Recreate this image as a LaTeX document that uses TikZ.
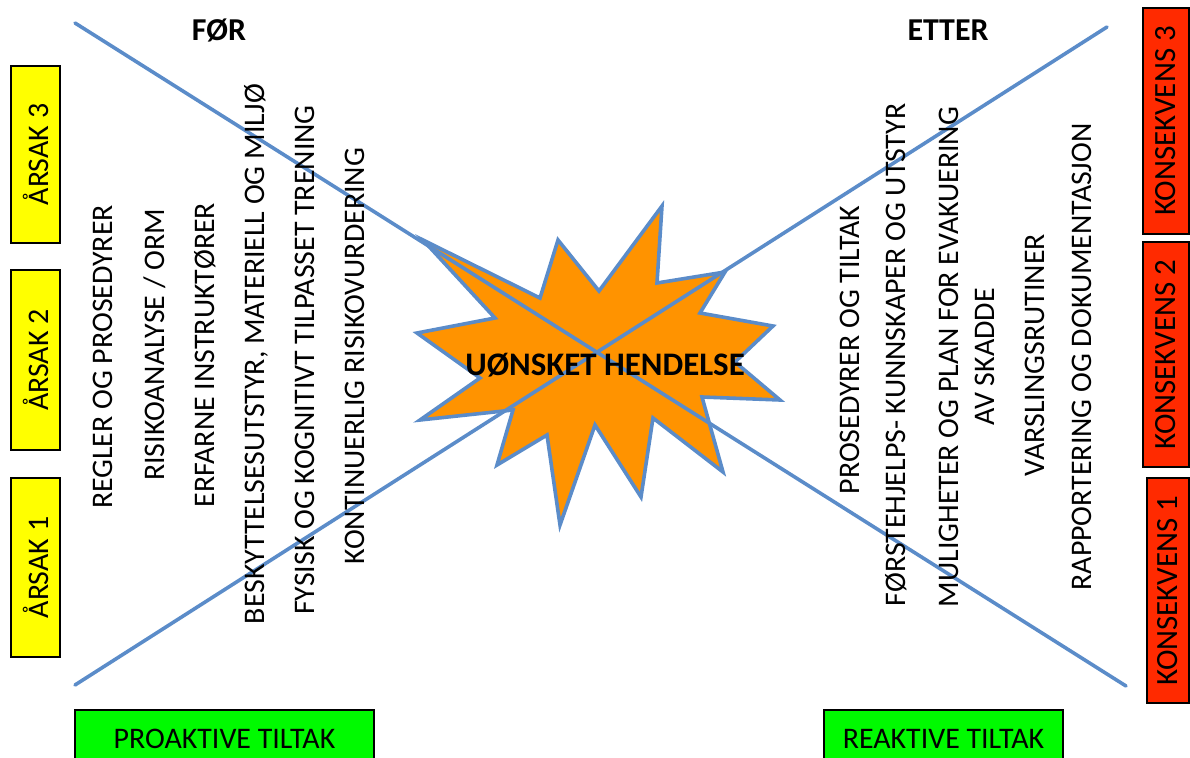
\documentclass[tikz,border=0pt]{standalone}
\usepackage{fontspec}
\setmainfont{Carlito}
\definecolor{lineblue}{RGB}{91,140,201}
\definecolor{starorange}{RGB}{255,147,0}
\definecolor{causeyellow}{RGB}{255,255,0}
\definecolor{effectred}{RGB}{255,42,0}
\definecolor{actiongreen}{RGB}{0,250,0}
\tikzset{
  txt/.style={font=\fontsize{30}{36}\selectfont, inner sep=0pt},
  vtxt/.style={txt, rotate=90, align=center},
  head/.style={font=\fontsize{32}{38}\selectfont\bfseries, inner sep=0pt},
  causebox/.style={draw=black, line width=2bp, fill=causeyellow, minimum width=180bp, minimum height=49bp, rotate=90, txt},
  effectbox/.style={draw=black, line width=2bp, fill=effectred, minimum width=225bp, rotate=90, txt, font=\fontsize{31}{36}\selectfont},
  actionbox/.style={draw=black, line width=2bp, fill=actiongreen, minimum height=58bp, txt},
  axis/.style={draw=lineblue, line width=3.6bp, line cap=round},
}
\begin{document}
\begin{tikzpicture}[x=1bp,y=-1bp]
\useasboundingbox (0,0) rectangle (1190,758);
\clip (0,0) rectangle (1190,758);

% explosion in the middle
\filldraw[fill=starorange, draw=lineblue, line width=3.6bp, line join=miter]
  (423,240) -- (540,298) -- (558,240) -- (599,291) -- (662,206) -- (657,283)
  -- (725,272) -- (700,313) -- (773,326) -- (735,362) -- (780,400) -- (702,397)
  -- (723,472) -- (653,418) -- (641,497) -- (595,425) -- (560,525) -- (547,435)
  -- (497,465) -- (513,410) -- (420,420) -- (480,378) -- (417,333) -- (495,318)
  -- cycle;

% the two crossing lines
\coordinate (tl) at (75,23);
\coordinate (br) at (1126,686);
\coordinate (bl) at (75,685);
\coordinate (tr) at (1107,27);
\draw[axis] (tl) -- (br);
\draw[axis] (bl) -- (tr);

\node[font=\fontsize{33}{38}\selectfont\bfseries, inner sep=0pt] (event) at (605,365) {UØNSKET HENDELSE};

% headings
\node[head] (before) at (219,30) {FØR};
\node[head] (after) at (948,30) {ETTER};

% causes
\node[causebox, minimum width=177bp] (c3) at (35.5,154.5) {ÅRSAK 3};
\node[causebox] (c2) at (35.5,360) {ÅRSAK 2};
\node[causebox, minimum width=179bp] (c1) at (35.5,567.5) {ÅRSAK 1};

% consequences
\node[effectbox, minimum height=46bp] (k3) at (1166,121) {KONSEKVENS 3};
\node[effectbox, minimum height=46bp] (k2) at (1166,354.5) {KONSEKVENS 2};
\node[effectbox, minimum height=42bp] (k1) at (1168,590.5) {KONSEKVENS 1};

% proactive measures
\node[vtxt] (p1) at (103,357) {REGLER OG PROSEDYRER};
\node[vtxt] (p2) at (155,345) {RISIKOANALYSE / ORM};
\node[vtxt] (p3) at (205,355) {ERFARNE INSTRUKTØRER};
\node[vtxt] (p4) at (256,354) {BESKYTTELSESUTSTYR, MATERIELL OG MILJØ};
\node[vtxt] (p5) at (305,360) {FYSISK OG KOGNITIVT TILPASSET TRENING};
\node[vtxt] (p6) at (355,356) {KONTINUERLIG RISIKOVURDERING};

% reactive measures
\node[vtxt] (r1) at (850,350) {PROSEDYRER OG TILTAK};
\node[vtxt] (r2) at (896,355) {FØRSTEHJELPS- KUNNSKAPER OG UTSTYR};
\node[vtxt] (r3) at (967,357) {MULIGHETER OG PLAN FOR EVAKUERING\\AV SKADDE};
\node[vtxt] (r4) at (1035,355) {VARSLINGSRUTINER};
\node[vtxt] (r5) at (1082,357) {RAPPORTERING OG DOKUMENTASJON};

% bottom labels
\node[actionbox, minimum width=299bp] (pro) at (224.5,739) {PROAKTIVE TILTAK};
\node[actionbox, minimum width=239bp] (rea) at (943.5,739) {REAKTIVE TILTAK};
\end{tikzpicture}
\end{document}
